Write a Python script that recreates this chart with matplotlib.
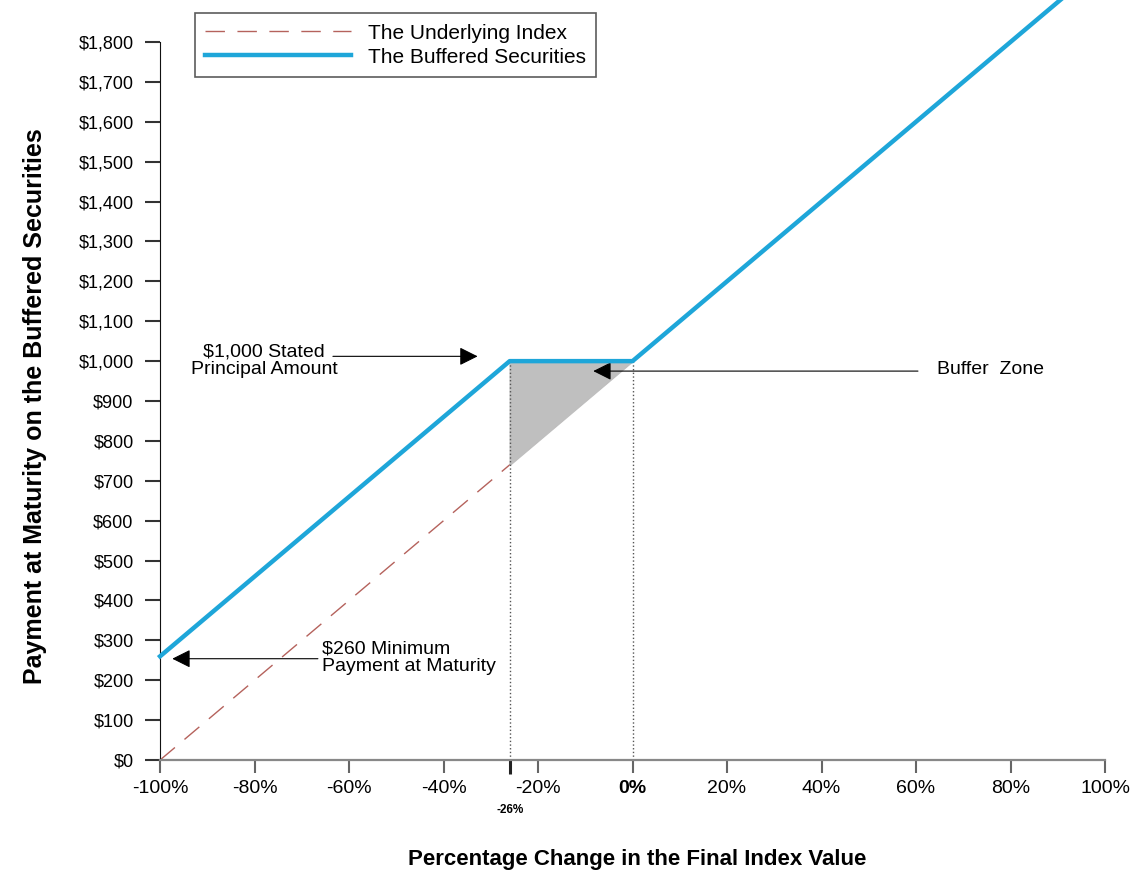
import numpy as np
import matplotlib.pyplot as plt

plt.rcParams['font.family'] = ['Liberation Sans', 'DejaVu Sans']

# data
pct = [-100, -26, 0, 100]
index_val = [0, 740, 1000, 2000]
buffered = [260, 1000, 1000, 2000]
buffer_pct = -26
min_payment = 260
principal = 1000

xticks = [-100, -80, -60, -40, -20, 0, 20, 40, 60, 80, 100]
yticks = list(range(0, 1900, 100))

fig = plt.figure(figsize=(11.4, 8.73), dpi=100)
ax = fig.add_axes([0.1404, 0.1294, 0.8289, 0.8225])

blue = '#1ea6d9'
red = '#b5625c'

l1, = ax.plot(pct, index_val, color=red, lw=1, dashes=(14, 9), label='The Underlying Index')
l2, = ax.plot(pct, buffered, color=blue, lw=3.2, label='The Buffered Securities', clip_on=False, zorder=5)

# buffer zone
xs = np.array([buffer_pct, 0])
ax.fill_between(xs, [principal + buffer_pct * 10, principal], [principal, principal], color='#bfbfbf', zorder=2)
ax.plot([buffer_pct, buffer_pct], [0, principal], color='#555555', lw=1, ls=':')
ax.plot([0, 0], [0, principal], color='#555555', lw=1, ls=':')

ax.set_xlim(-100, 100)
ax.set_ylim(0, 1800)
ax.set_xticks(xticks)
ax.set_xticklabels(['%d%%' % t for t in xticks], fontsize=14)
ax.get_xticklabels()[5].set_fontweight('bold')
ax.set_yticks(yticks)
ax.set_yticklabels(['${:,}'.format(t) for t in yticks], fontsize=13)
ax.tick_params(axis='y', length=11, width=1.5, color='#333333', pad=8)
ax.tick_params(axis='x', length=9.5, width=1.5, color='#666666', pad=5)
ax.set_xticks([buffer_pct], minor=True)
ax.set_xticklabels(['%d%%' % buffer_pct], minor=True, fontsize=8.5, fontweight='bold')
ax.tick_params(axis='x', which='minor', length=10, width=2.2, color='#222222', pad=22)

for s in ['top', 'right']:
    ax.spines[s].set_visible(False)
ax.spines['left'].set_color('#111111')
ax.spines['bottom'].set_color('#888888')
ax.spines['bottom'].set_linewidth(1.6)

ax.set_xlabel('Percentage Change in the Final Index Value', fontsize=16, fontweight='bold', va='center')
ax.xaxis.set_label_coords(0.505, -0.139)
ax.set_ylabel('Payment at Maturity on the Buffered Securities', fontsize=18, fontweight='bold')
ax.yaxis.set_label_coords(-0.12, 0.493)

# annotations
ax.annotate('', xy=(-32.2, 1012), xytext=(-64, 1012),
            arrowprops=dict(arrowstyle='-|>', color='black', lw=0.8, mutation_scale=28))
ax.text(-78, 1000, '$1,000 Stated\nPrincipal Amount', fontsize=14, ha='center', va='center', linespacing=1.05)

ax.annotate('', xy=(-8.9, 975), xytext=(61, 975),
            arrowprops=dict(arrowstyle='-|>', color='black', lw=0.8, mutation_scale=28))
ax.text(64.5, 978, 'Buffer  Zone', fontsize=14, ha='left', va='center')

ax.annotate('', xy=(-98, 254), xytext=(-66, 254),
            arrowprops=dict(arrowstyle='-|>', color='black', lw=0.8, mutation_scale=28))
ax.text(-65.7, 257, '$260 Minimum\nPayment at Maturity', fontsize=14, ha='left', va='center', linespacing=1.05)

leg = fig.legend(handles=[l1, l2], loc='upper left', bbox_to_anchor=(0.171, 0.985),
                 fontsize=15, frameon=True, fancybox=False, edgecolor='#333333',
                 handlelength=7.0, handletextpad=0.8, borderpad=0.5, labelspacing=0.25,
                 borderaxespad=0)
leg.get_frame().set_linewidth(1.2)

fig.savefig('out.png', dpi=100)
